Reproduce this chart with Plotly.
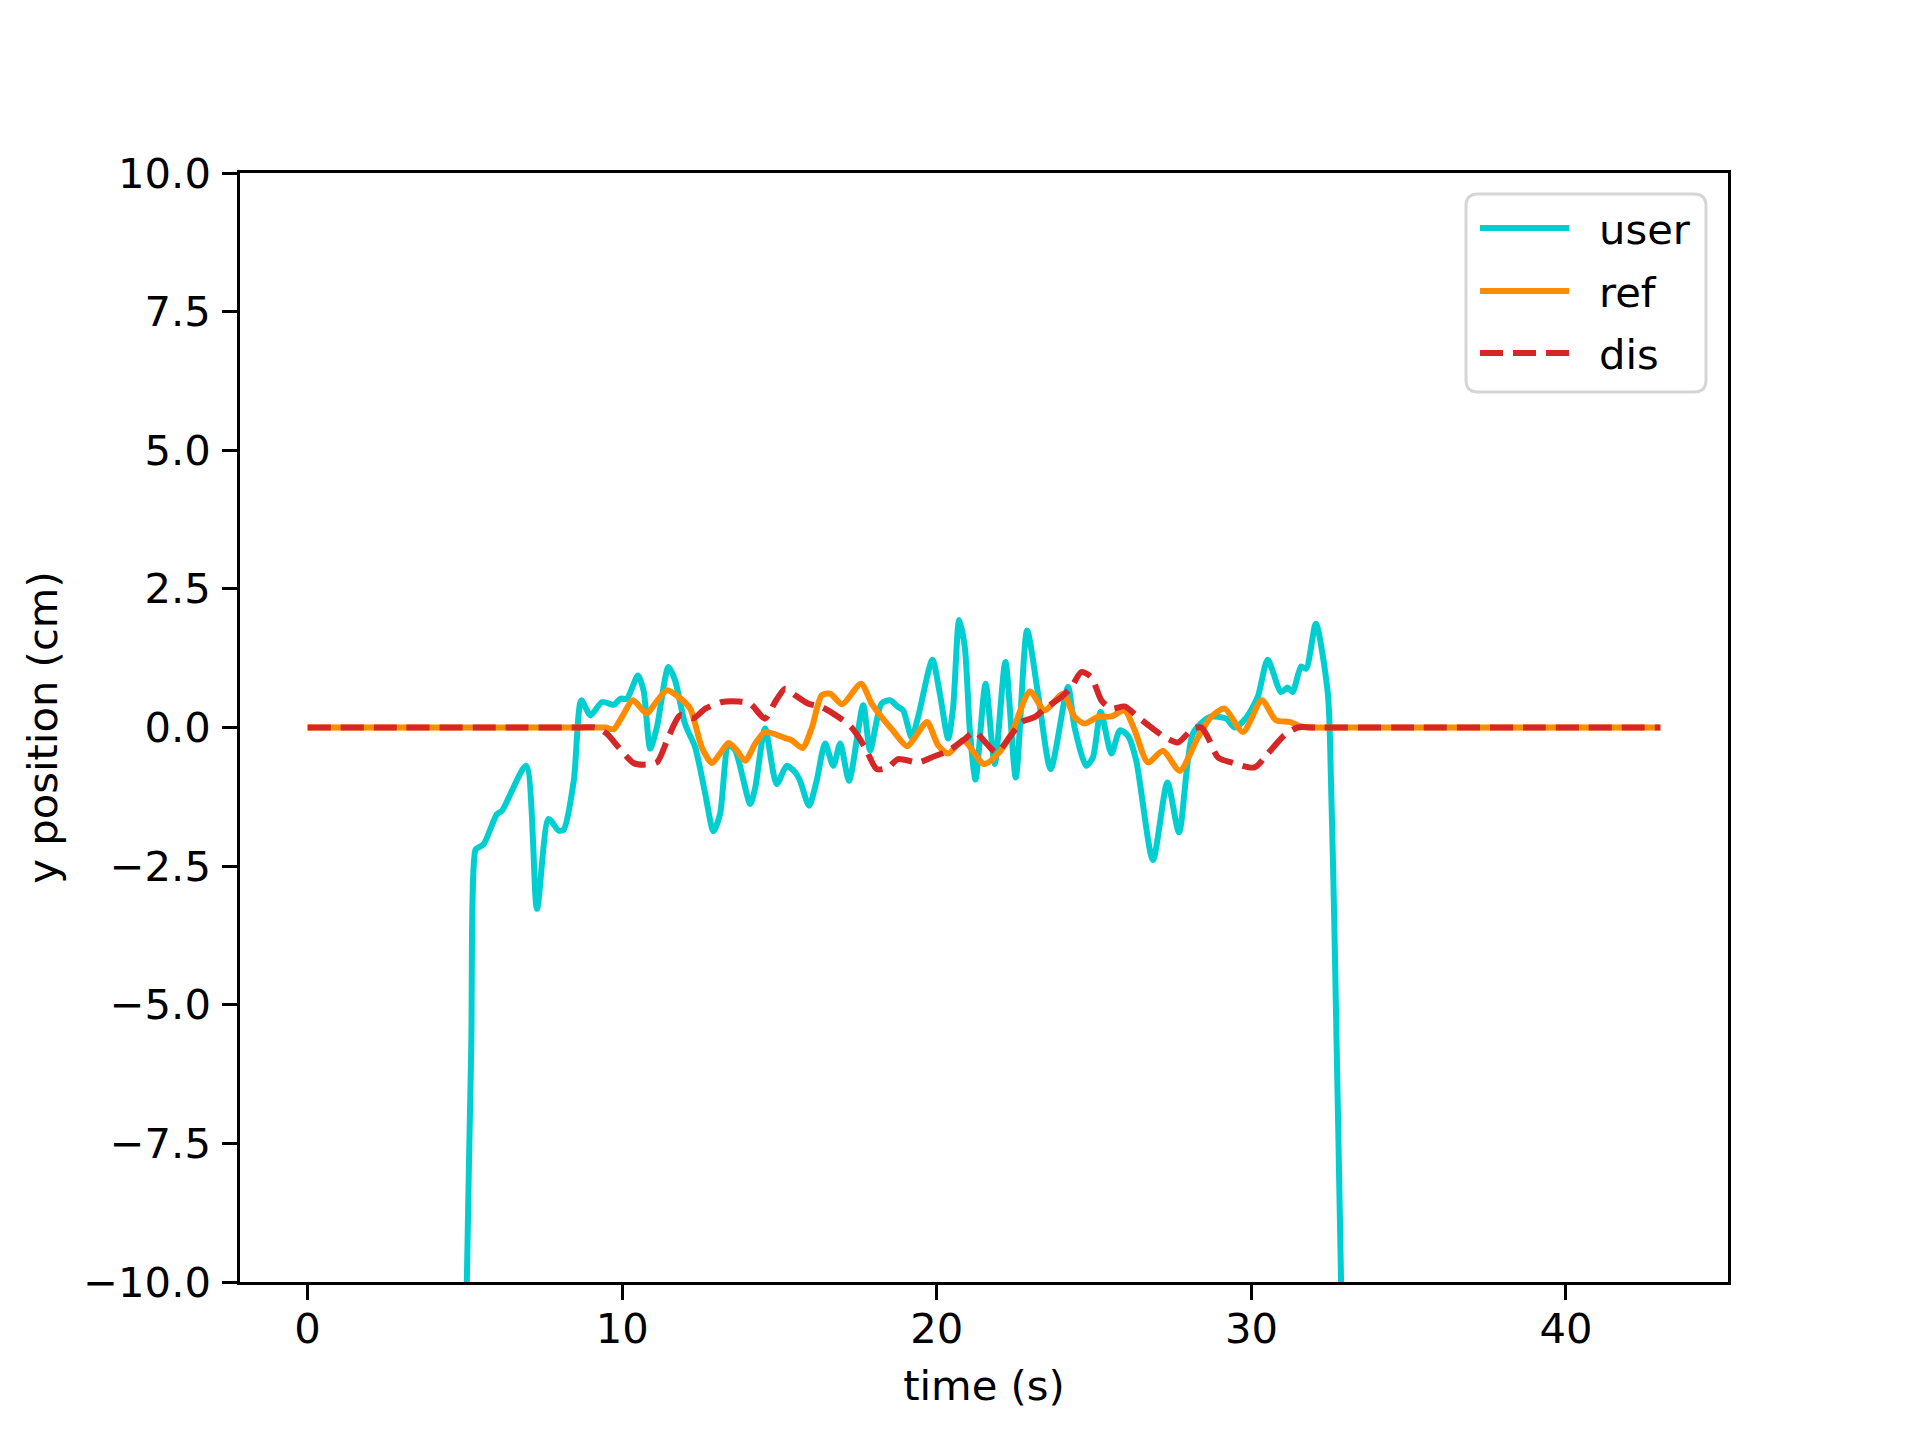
import plotly.graph_objects as go

# ---- data ----
user_t = [0, 4.95, 5.06, 5.2, 5.34, 5.44, 5.6, 6.02, 6.18, 6.94, 7.29, 7.66, 7.98, 8.14, 8.46, 8.70, 8.99,
          9.36, 9.73, 9.94, 10.15, 10.50, 10.68, 10.89, 11.10, 11.47, 11.68, 12.0, 12.32, 12.64, 12.90, 13.11,
          13.38, 13.59, 14.07, 14.23, 14.54, 14.91, 15.23, 15.5, 15.65, 15.94, 16.18, 16.45, 16.71, 16.93,
          17.21, 17.66, 17.88, 18.24, 18.51, 18.77, 18.93, 19.20, 19.41, 19.86, 20.1, 20.36, 20.52, 20.71,
          20.89, 21.05, 21.23, 21.55, 21.84, 22.18, 22.51, 22.87, 23.22, 23.62, 24.17, 24.38, 24.75, 24.96,
          25.21, 25.55, 25.82, 26.08, 26.34, 26.87, 27.33, 27.70, 28.14, 28.67, 29.2, 29.47, 29.84, 30.2,
          30.52, 30.94, 31.15, 31.31, 31.58, 31.74, 32.05, 32.43, 32.53, 32.64, 32.85, 33.0, 43.0]
user_y = [-15, -15, -10, -5.8, -2.2, -2.16, -2.1, -1.56, -1.5, -0.69, -3.27, -1.65, -1.86, -1.84, -0.96, 0.49,
          0.22, 0.46, 0.41, 0.52, 0.52, 0.94, 0.66, -0.38, 0.0, 1.09, 0.85, 0.06, -0.36, -1.2, -1.87, -1.56,
          -0.32, -0.41, -1.38, -1.08, -0.02, -1.02, -0.69, -0.81, -0.96, -1.41, -0.96, -0.29, -0.69, -0.29,
          -0.96, 0.40, -0.41, 0.43, 0.49, 0.37, 0.31, -0.18, 0.2, 1.22, 0.6, -0.2, 0.37, 1.94, 1.45, -0.05,
          -0.94, 0.79, -0.66, 1.18, -0.9, 1.75, 0.6, -0.75, 0.73, 0.0, -0.69, -0.54, 0.28, -0.47, -0.05,
          -0.15, -0.6, -2.39, -0.99, -1.89, -0.11, 0.19, 0.16, 0.0, 0.18, 0.55, 1.22, 0.64, 0.72, 0.64, 1.1,
          1.06, 1.87, 0.61, -0.96, -3.66, -10, -14.5, -14.5]

ref_t = [0, 3.0, 6.0, 8.6, 9.15, 9.47, 9.73, 9.99, 10.34, 10.78, 11.04, 11.42, 11.79, 12.16, 12.53, 12.85, 13.11,
         13.38, 13.64, 13.91, 14.23, 14.54, 15.18, 15.39, 15.73, 16.03, 16.34, 16.61, 16.99, 17.59, 17.93,
         18.24, 18.61, 19.06, 19.3, 19.69, 20.04, 20.36, 20.84, 21.50, 21.95, 22.37, 22.96, 23.43, 24.01,
         24.38, 24.7, 25.12, 25.55, 25.97, 26.29, 26.71, 27.19, 27.72, 28.30, 28.72, 29.15, 29.73, 30.33,
         30.78, 31.21, 31.58, 31.79, 32.3, 35.0, 39.0, 43.0]
ref_y = [0, 0, 0, 0, 0, 0, -0.03, 0.19, 0.49, 0.25, 0.43, 0.67, 0.55, 0.34, -0.36, -0.64, -0.47, -0.28, -0.41,
         -0.6, -0.29, -0.08, -0.19, -0.23, -0.37, 0.0, 0.58, 0.61, 0.42, 0.79, 0.43, 0.19, -0.06, -0.34, -0.18,
         0.1, -0.32, -0.47, -0.23, -0.66, -0.47, -0.11, 0.65, 0.31, 0.61, 0.19, 0.07, 0.19, 0.2, 0.31, -0.05,
         -0.63, -0.42, -0.78, -0.18, 0.19, 0.34, -0.08, 0.49, 0.13, 0.1, 0.02, 0.0, 0.0, 0.0, 0.0, 0.0]

dis_t = [0, 3.0, 6.0, 8.6, 9.15, 9.51, 9.89, 10.36, 10.68, 11.10, 11.47, 11.84, 12.27, 12.64, 13.17, 13.70, 14.07,
         14.54, 14.86, 15.18, 15.50, 15.92, 16.34, 16.87, 17.29, 17.72, 18.09, 18.45, 18.77, 19.41, 19.83,
         20.36, 20.84, 21.21, 21.58, 21.90, 22.32, 22.69, 23.12, 23.43, 23.96, 24.28, 24.59, 24.91, 25.23,
         25.55, 25.97, 26.39, 26.82, 27.24, 27.66, 28.14, 28.41, 28.62, 28.94, 29.36, 30.10, 30.52, 31.05,
         31.47, 32.0, 35.0, 39.0, 43.0]
dis_y = [0, 0, 0, 0, 0, -0.11, -0.36, -0.64, -0.67, -0.63, -0.17, 0.22, 0.17, 0.34, 0.46, 0.47, 0.43, 0.16,
         0.46, 0.70, 0.58, 0.43, 0.37, 0.19, 0.0, -0.36, -0.75, -0.72, -0.57, -0.63, -0.54, -0.42, -0.23,
         -0.08, -0.29, -0.45, -0.17, 0.1, 0.19, 0.34, 0.55, 0.73, 1.0, 0.91, 0.49, 0.34, 0.38, 0.19, 0.0,
         -0.17, -0.27, -0.02, 0.0, -0.18, -0.54, -0.63, -0.72, -0.47, -0.14, 0.0, 0.0, 0.0, 0.0, 0.0]

series_names = ["user", "ref", "dis"]
series_colors = ["#00CED1", "#FF8C00", "#d62728"]
series_dash = ["solid", "solid", "23px,10px"]

x_ticks = [0, 10, 20, 30, 40]
y_ticks = [-10, -7.5, -5, -2.5, 0, 2.5, 5, 7.5, 10]
y_tick_text = ["\u221210.0", "\u22127.5", "\u22125.0", "\u22122.5", "0.0", "2.5", "5.0", "7.5", "10.0"]

FONT = "DejaVu Sans"
FS = 41.7
W, H = 1920, 1440
ML, MR, MT, MB = 240, 192, 173, 158
PW, PH = W - ML - MR, H - MT - MB

fig = go.Figure()
for (tx, ty), nm, col, dsh in zip([(user_t, user_y), (ref_t, ref_y), (dis_t, dis_y)],
                                  series_names, series_colors, series_dash):
    fig.add_trace(go.Scatter(x=tx, y=ty, mode="lines", name=nm, showlegend=False,
                             line=dict(color=col, width=6, dash=dsh, shape="spline", smoothing=0.7)))

axis_common = dict(showline=True, linecolor="black", linewidth=3.3, mirror=True,
                   ticks="outside", ticklen=14.6, tickwidth=3.3, tickcolor="black",
                   showgrid=False, zeroline=False,
                   tickfont=dict(family=FONT, size=FS, color="black"))

fig.update_xaxes(range=[-2.15, 45.15], tickvals=x_ticks, ticklabelstandoff=-7,
                 title=dict(text="time (s)", font=dict(family=FONT, size=FS, color="black"), standoff=20),
                 **axis_common)
fig.update_yaxes(range=[-10, 10], tickvals=y_ticks, ticktext=y_tick_text, ticklabelstandoff=3,
                 title=dict(text="y position (cm)", font=dict(family=FONT, size=FS, color="black"), standoff=13),
                 **axis_common)


# ---- legend box (matplotlib-style, drawn in paper coordinates) ----
def px_x(X):
    return (X - ML) / PW


def px_y(Y):
    return (H - MB - Y) / PH


shapes = []
x0, x1, y0, y1, r = 1466, 1706, 194, 392, 12
path = (f"M {px_x(x0 + r)},{px_y(y0)} L {px_x(x1 - r)},{px_y(y0)} "
        f"Q {px_x(x1)},{px_y(y0)} {px_x(x1)},{px_y(y0 + r)} L {px_x(x1)},{px_y(y1 - r)} "
        f"Q {px_x(x1)},{px_y(y1)} {px_x(x1 - r)},{px_y(y1)} L {px_x(x0 + r)},{px_y(y1)} "
        f"Q {px_x(x0)},{px_y(y1)} {px_x(x0)},{px_y(y1 - r)} L {px_x(x0)},{px_y(y0 + r)} "
        f"Q {px_x(x0)},{px_y(y0)} {px_x(x0 + r)},{px_y(y0)} Z")
shapes.append(dict(type="path", xref="paper", yref="paper", path=path,
                   fillcolor="rgba(255,255,255,0.8)", line=dict(color="#d5d5d5", width=3), layer="above"))
annotations = []
row_y = [228, 291, 353]
for nm, col, dsh, ry in zip(series_names, series_colors, series_dash, row_y):
    shapes.append(dict(type="line", xref="paper", yref="paper",
                       x0=px_x(1480), x1=px_x(1569), y0=px_y(ry), y1=px_y(ry),
                       line=dict(color=col, width=6, dash=dsh), layer="above"))
    annotations.append(dict(xref="paper", yref="paper", x=px_x(1597), y=px_y(ry + 1),
                            xanchor="left", yanchor="middle", text=nm, showarrow=False,
                            font=dict(family=FONT, size=FS, color="black")))

fig.update_layout(
    width=W, height=H,
    margin=dict(l=ML, r=MR, t=MT, b=MB),
    paper_bgcolor="white", plot_bgcolor="white",
    font=dict(family=FONT, size=FS, color="black"),
    showlegend=False,
    shapes=shapes, annotations=annotations,
)

fig.write_html("out.html")
